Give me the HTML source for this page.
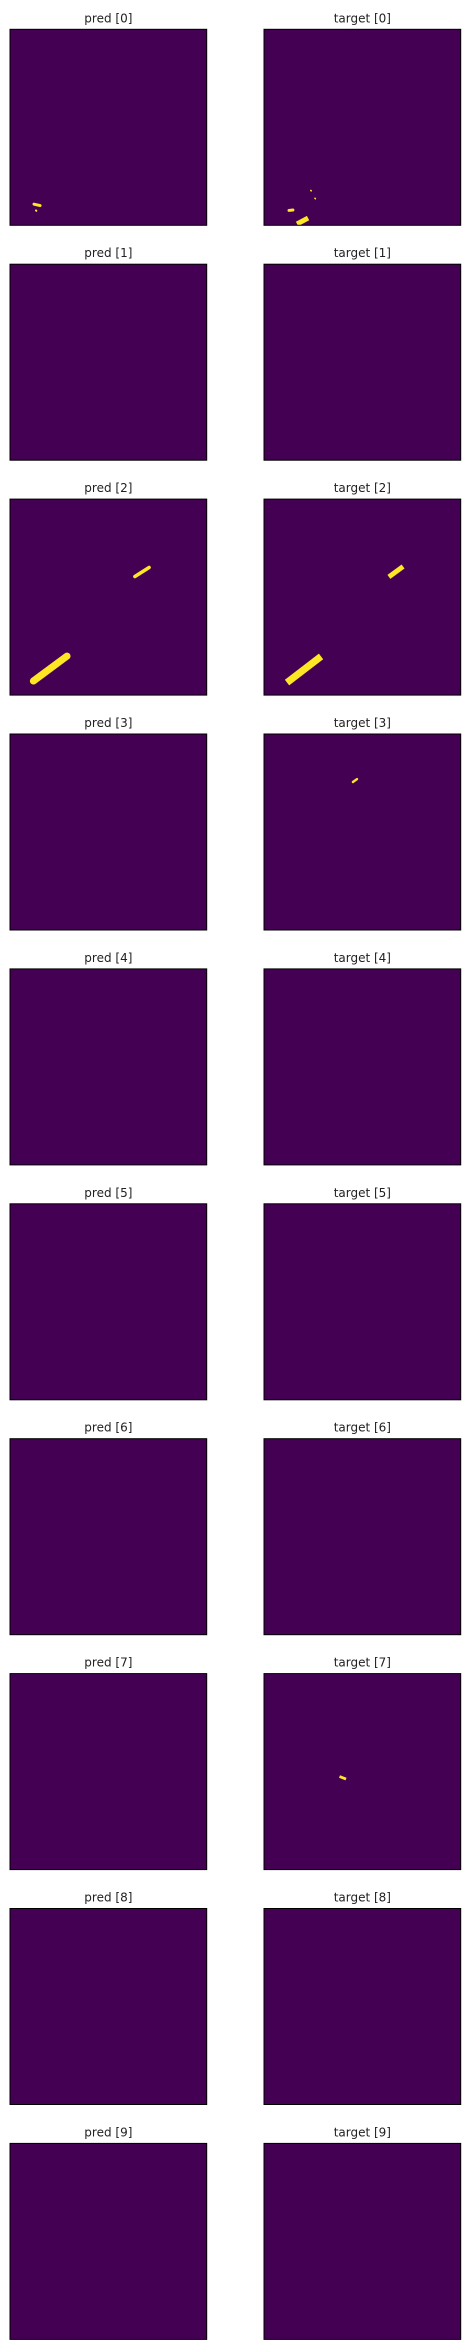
<!DOCTYPE html>
<html><head><meta charset="utf-8"><style>
html,body{margin:0;padding:0;background:#fff;}
svg{display:block;}
text{font-family:"DejaVu Sans","Liberation Sans",sans-serif;font-size:12px;fill:#222;}
</style></head><body>
<svg id="fig" width="469" height="2349" viewBox="0 0 469 2349" xmlns="http://www.w3.org/2000/svg"></svg>
<script>
// data: indices of samples, and yellow mask segments in image coords (0-100)
const sampleIndices = [0,1,2,3,4,5,6,7,8,9];
const panelKinds = ["pred","target"];
const segRow   = [0,0,0,0,0,0,2,2,2,2,3,7];
const segKind  = [0,0,1,1,1,1,0,0,1,1,1,1];
const segX1    = [12.2,13.2,23.8,25.9,12.7,16.8,11.9,63.5,11.7,63.5,45.2,38.4];
const segY1    = [89.2,92.4,82.2,86.2,92.4,99.3,92.8,39.5,93.6,39.7,24.5,52.5];
const segX2    = [15.3,13.4,24.0,26.1,14.7,22.4,29.0,70.7,29.0,70.7,47.3,41.7];
const segY2    = [89.9,92.6,82.4,86.4,92.2,96.3,80.1,34.9,80.3,34.4,23.0,53.8];
const segW     = [1.5,1.0,0.8,0.8,1.5,2.5,3.6,1.8,3.6,2.5,1.2,1.4];
const segRound = [1,1,1,1,1,0,1,1,0,0,1,0];

const NS="http://www.w3.org/2000/svg";
const svg=document.getElementById('fig');
const axLeft=[10,264], axTop0=29.3, pitch=234.9, axW=196.7, axH=196;
function sx(k,v){return axLeft[k]+v*axW/100;}
function sy(r,v){return axTop0+r*pitch+v*axH/100;}
function mk(t,a){const e=document.createElementNS(NS,t);for(const k in a)e.setAttribute(k,a[k]);return e;}

sampleIndices.forEach((idx,r)=>{
  panelKinds.forEach((kind,k)=>{
    const g=mk('g',{});
    
    
    const t=mk('text',{x:axLeft[k]+axW/2,y:sy(r,0)-7,'text-anchor':'middle'});
    
    
    t.textContent=kind+' ['+idx+']';
    g.appendChild(t);
    const bg=mk('rect',{x:axLeft[k],y:sy(r,0),width:axW,height:axH,fill:'#440154'});
    
    
    g.appendChild(bg);
    for(let i=0;i<segRow.length;i++){
      if(segRow[i]!==r||segKind[i]!==k)continue;
      const ln=mk('line',{x1:sx(k,segX1[i]),y1:sy(r,segY1[i]),x2:sx(k,segX2[i]),y2:sy(r,segY2[i]),
        stroke:'#fde725','stroke-width':segW[i]*1.96,'stroke-linecap':segRound[i]?'round':'butt'});
      
      
      g.appendChild(ln);
    }
    const fr=mk('rect',{x:axLeft[k],y:sy(r,0),width:axW,height:axH,fill:'none',stroke:'#000','stroke-width':1});
    
    
    g.appendChild(fr);
    svg.appendChild(g);
  });
});
</script>
</body></html>
